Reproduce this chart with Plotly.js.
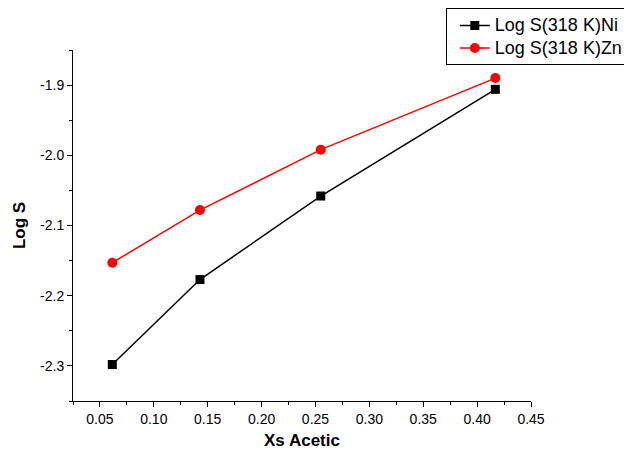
<!DOCTYPE html>
<html>
<head>
<meta charset="utf-8">
<script src="https://cdn.plot.ly/plotly-3.0.1.min.js"></script>
<style>html,body{margin:0;padding:0;background:#fff;}#chart{width:624px;height:451px;}</style>
</head>
<body>
<div id="chart"></div>
<script>
const xsAcetic = [0.0615, 0.1428, 0.2549, 0.4169];
const logSNi = [-2.298, -2.177, -2.058, -1.906];
const logSZn = [-2.153, -2.078, -1.992, -1.890];
const seriesNames = ['Log S(318 K)Ni', 'Log S(318 K)Zn'];
const xTickVals = [0.05, 0.10, 0.15, 0.20, 0.25, 0.30, 0.35, 0.40, 0.45];
const yTickVals = [-2.3, -2.2, -2.1, -2.0, -1.9];

const font = 'Liberation Sans, Arial, sans-serif';
const legendName = s => '<span style="font-size:18px">' + s + '</span>';
const traces = [
  {x: xsAcetic, y: logSNi, name: legendName(seriesNames[0]), type: 'scatter', mode: 'lines+markers',
   line: {color: '#000000', width: 1.5}, marker: {symbol: 'square', size: 9, color: '#000000'}},
  {x: xsAcetic, y: logSZn, name: legendName(seriesNames[1]), type: 'scatter', mode: 'lines+markers',
   line: {color: '#ff0000', width: 1.5}, marker: {symbol: 'circle', size: 10, color: '#ff0000'}}
];
const layout = {
  width: 624, height: 451,
  margin: {l: 73, r: 93, t: 50, b: 50, autoexpand: false},
  paper_bgcolor: '#ffffff', plot_bgcolor: '#ffffff',
  showlegend: true,
  legend: {x: 0.814, y: 1.119, xanchor: 'left', yanchor: 'top', bgcolor: '#ffffff',
    bordercolor: '#000000', borderwidth: 1, font: {family: font, size: 15, color: '#000'},
    indentation: 8, tracegroupgap: 0},
  xaxis: {range: [0.025, 0.45], tickvals: xTickVals, ticktext: xTickVals.map(v => v.toFixed(2)),
    ticks: 'outside', ticklen: 5, tickwidth: 1, tickcolor: '#000', showline: true, linecolor: '#000', linewidth: 1,
    showgrid: false, zeroline: false, mirror: false, automargin: false,
    minor: {dtick: 0.025, tick0: 0.025, ticks: 'outside', ticklen: 3, tickcolor: '#000', showgrid: false},
    tickfont: {family: font, size: 14, color: '#000'},
    title: {text: '<b>Xs Acetic</b>', font: {family: font, size: 17, color: '#000'}, standoff: 8}},
  yaxis: {range: [-2.35, -1.85], tickvals: yTickVals, ticktext: yTickVals.map(v => v.toFixed(1)),
    ticks: 'outside', ticklen: 5, tickwidth: 1, tickcolor: '#000', showline: true, linecolor: '#000', linewidth: 1,
    showgrid: false, zeroline: false, mirror: false, automargin: false,
    minor: {dtick: 0.05, tick0: -1.85, ticks: 'outside', ticklen: 3, tickcolor: '#000', showgrid: false},
    tickfont: {family: font, size: 14, color: '#000'},
    title: {text: '<b>Log S</b>', font: {family: font, size: 17, color: '#000'}, standoff: 10}}
};
Plotly.newPlot('chart', traces, layout, {displayModeBar: false, staticPlot: true});
</script>
</body>
</html>
